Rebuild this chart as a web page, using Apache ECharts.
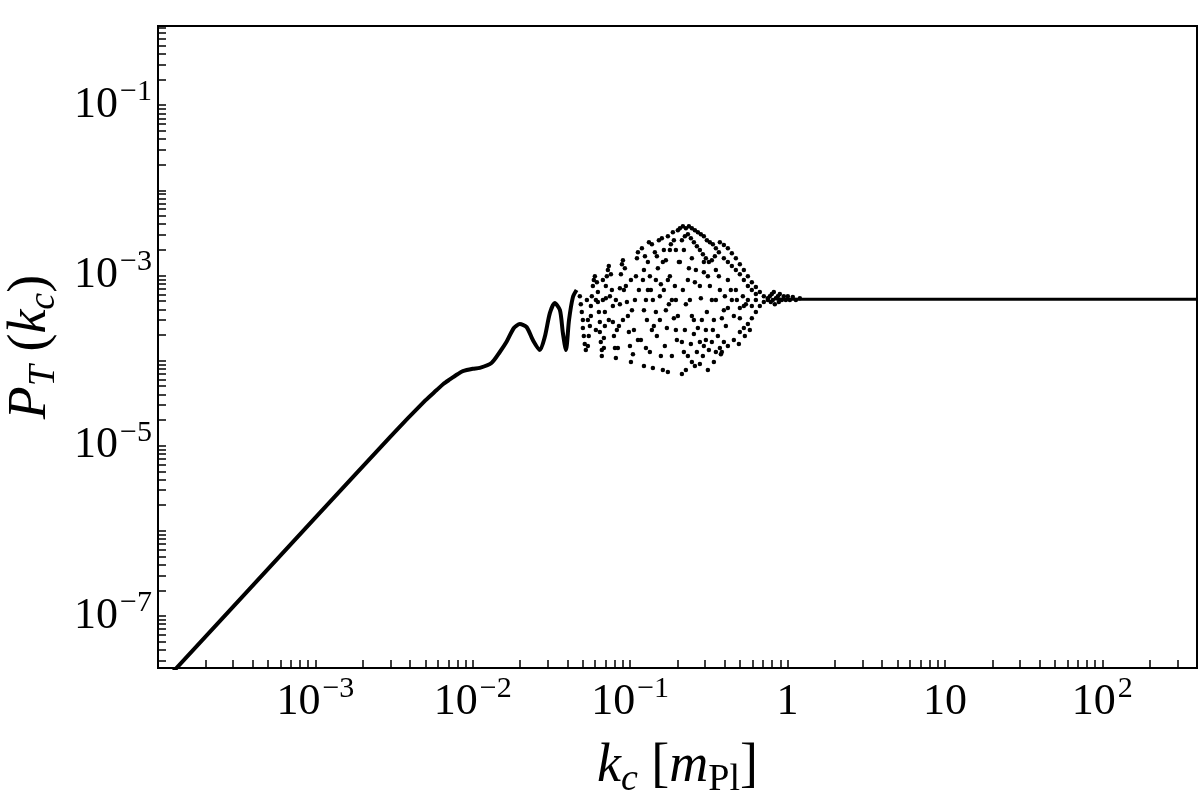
<!DOCTYPE html>
<html>
<head>
<meta charset="utf-8">
<title>P_T(k_c)</title>
<script src="https://cdn.jsdelivr.net/npm/echarts@6.0.0/dist/echarts.min.js"></script>
<style>
  html, body { margin: 0; padding: 0; background: #fff; }
  #chart { width: 1200px; height: 796px; }
</style>
</head>
<body>
<div id="chart"></div>
<script>
// low-k branch: k^2 rise, shoulder and the first resolved bumps
const lineK = [1.2e-4, 1e-3, 3e-3, 5e-3, 5.9e-3, 6.5e-3, 7.15e-3, 8e-3, 8.65e-3, 1e-2, 1.109e-2,
  1.315e-2, 1.486e-2, 1.64e-2, 1.825e-2, 1.99e-2, 2.2e-2, 2.41e-2, 2.67e-2, 2.87e-2, 3.09e-2,
  3.32e-2, 3.58e-2, 3.74e-2, 3.91e-2, 4.09e-2, 4.33e-2, 4.57e-2];
const lineP = [2.05e-8, 1.43e-6, 1.28e-5, 3.4e-5, 4.5e-5, 5.3e-5, 6.0e-5, 6.9e-5, 7.5e-5, 8.0e-5, 8.2e-5,
  9.35e-5, 1.26e-4, 1.66e-4, 2.41e-4, 2.68e-4, 2.47e-4, 1.74e-4, 1.33e-4, 1.9e-4, 3.61e-4,
  4.73e-4, 3.92e-4, 2.1e-4, 1.33e-4, 2.99e-4, 5.56e-4, 6.73e-4];

// sampled points of the fast oscillations
const cloudK = [
  0.0479, 0.0486, 0.0493, 0.0501, 0.0501, 0.0508, 0.0515, 0.0523,
  0.0539, 0.0546, 0.0555, 0.0563, 0.0563, 0.0571, 0.0580, 0.0588, 0.0597,
  0.0615, 0.0624, 0.0624, 0.0633, 0.0642, 0.0642, 0.0651, 0.0661, 0.0661,
  0.0681, 0.0681, 0.0691, 0.0691, 0.0701, 0.0701, 0.0711, 0.0722, 0.0732,
  0.0755, 0.0766, 0.0777, 0.0777, 0.0789, 0.0801, 0.0812,
  0.0836, 0.0849, 0.0861, 0.0861, 0.0874, 0.0887, 0.0900,
  0.0926, 0.0940, 0.0954, 0.0968, 0.0982, 0.0997, 0.1012,
  0.1042, 0.1057, 0.1073, 0.1089, 0.1105, 0.1121,
  0.0531, 0.0539, 0.0606, 0.0606, 0.0671, 0.0671, 0.0732, 0.0744,
  0.0812, 0.0824, 0.0900, 0.0913, 0.1012, 0.1027, 0.1121, 0.1137,
  0.1171, 0.1188, 0.1206, 0.1224, 0.1242, 0.1260, 0.1279, 0.1297, 0.1317, 0.1335,
  0.1355, 0.1375, 0.1395, 0.1415, 0.1436, 0.1458, 0.1479, 0.1501, 0.1523, 0.1545,
  0.1568, 0.1591, 0.1614, 0.1638, 0.1662, 0.1687, 0.1712, 0.1737, 0.1763, 0.1789,
  0.1815, 0.1842, 0.1869, 0.1897, 0.1925, 0.1953, 0.1982, 0.2011, 0.2041,
  0.1224, 0.1335, 0.1395, 0.1479, 0.1614, 0.1687, 0.1789, 0.1897, 0.1953, 0.1260, 0.1568, 0.1737,
  0.1224, 0.1297, 0.1375, 0.1458, 0.1545, 0.1638, 0.1737, 0.1842, 0.1953,
  0.2071, 0.2164, 0.2261, 0.2363, 0.2468, 0.2579, 0.2695, 0.2815, 0.2941, 0.3074, 0.3211, 0.3355, 0.3506, 0.3663,
  0.2133, 0.2228, 0.2328, 0.2432, 0.2542, 0.2656, 0.2774, 0.2899, 0.3029, 0.3165, 0.3306, 0.3455,
  0.3717, 0.3941, 0.4179, 0.4430, 0.4697, 0.4980, 0.5280, 0.5599, 0.5935, 0.6294, 0.6672, 0.7074, 0.7501,
  0.3941, 0.4179, 0.4430, 0.4697, 0.4980, 0.5280, 0.5599, 0.5935, 0.6294,
  0.3827, 0.4179, 0.4561, 0.4980, 0.5280, 0.5599, 0.5935, 0.6294, 0.6672, 0.7074, 0.7501, 0.5358, 0.5764, 0.4908,
  0.2164, 0.2261, 0.2363, 0.2468, 0.2579, 0.2695, 0.2815, 0.2941, 0.3074, 0.3211, 0.3355, 0.3506, 0.3663, 0.3827,
  0.4000, 0.4179, 0.4365, 0.4561, 0.4767, 0.4980, 0.5204, 0.5438,
  0.2071, 0.2196, 0.2328, 0.2468, 0.2617, 0.2774, 0.2941, 0.3119, 0.3306, 0.3506, 0.3717, 0.3941, 0.4179, 0.4430,
  0.4697, 0.4980, 0.5280, 0.5599, 0.5935, 0.6294, 0.2397, 0.2542, 0.2856, 0.3029, 0.3405, 0.3610, 0.4059, 0.2011,
  0.2133, 0.2228, 0.2328, 0.2432, 0.2542, 0.2656, 0.2774, 0.2899, 0.3029, 0.3165, 0.3306, 0.3506, 0.3717, 0.3941,
  0.2196, 0.2468, 0.2941,
  0.2133, 0.2261, 0.2579, 0.2774, 0.3119, 0.3405, 0.3772,
  0.7722, 0.7836, 0.7951, 0.8069, 0.8188, 0.8309, 0.8432, 0.8682, 0.8810, 0.8939,
  0.9205, 0.9478, 0.9761, 1.005, 1.035, 1.081, 1.130, 1.198
];
const cloudP = [
  5.71e-4, 4.60e-4, 3.71e-4, 2.99e-4, 2.41e-4, 1.94e-4, 1.56e-4, 1.33e-4,
  1.48e-4, 1.94e-4, 2.54e-4, 3.33e-4, 4.36e-4, 5.71e-4, 7.49e-4, 8.81e-4, 9.81e-4,
  8.34e-4, 6.37e-4, 4.86e-4, 3.71e-4, 2.83e-4, 2.16e-4, 1.65e-4, 1.33e-4, 1.13e-4,
  1.40e-4, 1.84e-4, 2.54e-4, 3.71e-4, 5.41e-4, 7.49e-4, 9.81e-4, 1.154e-3, 1.286e-3,
  1.035e-3, 6.72e-4, 4.36e-4, 2.83e-4, 1.94e-4, 1.40e-4, 1.07e-4,
  1.40e-4, 2.54e-4, 4.60e-4, 7.09e-4, 1.035e-3, 1.357e-3, 1.512e-3,
  1.218e-3, 7.49e-4, 4.86e-4, 3.33e-4, 2.16e-4, 1.48e-4, 9.60e-5,
  1.19e-4, 2.28e-4, 5.13e-4, 9.81e-4, 1.596e-3, 1.877e-3,
  5.13e-4, 2.99e-4, 5.13e-4, 2.28e-4, 5.13e-4, 8.81e-4, 2.99e-4, 5.71e-4,
  5.13e-4, 2.28e-4, 2.99e-4, 6.72e-4, 8.81e-4, 3.91e-4, 1.74e-4, 6.72e-4,
  1.74e-4, 2.092e-3, 8.81e-4, 8.61e-5, 1.685e-3, 5.13e-4, 2.99e-4, 1.433e-3, 2.460e-3, 1.26e-4,
  6.72e-4, 2.331e-3, 8.16e-5, 2.54e-4, 1.877e-3, 3.71e-4, 1.94e-4, 1.218e-3, 2.597e-3, 5.71e-4,
  7.90e-4, 2.741e-3, 7.73e-5, 1.982e-3, 1.48e-4, 1.512e-3, 2.41e-4, 2.893e-3, 4.60e-4, 9.81e-4,
  2.331e-3, 1.13e-4, 3.224e-3, 3.15e-4, 7.49e-4, 1.982e-3, 1.74e-4, 3.403e-3, 1.433e-3,
  1.154e-3, 9.81e-4, 5.13e-4, 1.685e-3, 1.433e-3, 3.91e-4, 1.982e-3, 2.597e-3, 5.13e-4, 1.40e-4, 1.13e-4, 7.32e-5,
  3.91e-4, 6.72e-4, 2.28e-4, 8.81e-4, 2.99e-4, 6.72e-4, 8.81e-4, 5.13e-4, 2.28e-4,
  3.591e-3, 3.792e-3, 3.591e-3, 3.792e-3, 3.591e-3, 3.403e-3, 3.224e-3, 3.054e-3, 2.893e-3, 2.597e-3, 2.460e-3, 2.331e-3, 2.092e-3, 1.877e-3,
  2.597e-3, 2.893e-3, 3.054e-3, 2.741e-3, 2.460e-3, 2.208e-3, 1.982e-3, 1.778e-3, 1.596e-3, 1.433e-3, 1.512e-3, 1.685e-3,
  2.460e-3, 2.27e-3, 2.092e-3, 1.827e-3, 1.596e-3, 1.357e-3, 1.154e-3, 9.81e-4, 8.34e-4, 7.29e-4, 6.37e-4, 5.71e-4, 5.41e-4,
  1.596e-3, 1.433e-3, 1.286e-3, 1.154e-3, 1.035e-3, 8.81e-4, 7.49e-4, 6.72e-4, 6.03e-4,
  1.26e-4, 1.48e-4, 1.74e-4, 2.16e-4, 2.41e-4, 2.68e-4, 3.15e-4, 3.71e-4, 4.36e-4, 4.86e-4, 5.13e-4, 1.94e-4, 2.28e-4, 1.56e-4,
  6.72e-4, 4.60e-4, 1.218e-3, 3.33e-4, 8.34e-4, 2.41e-4, 5.41e-4, 1.093e-3, 3.71e-4, 7.49e-4, 2.28e-4, 5.13e-4, 9.81e-4, 3.15e-4,
  5.71e-4, 4.13e-4, 6.72e-4, 3.33e-4, 5.13e-4, 4.13e-4, 5.71e-4, 4.60e-4,
  1.433e-3, 1.982e-3, 8.81e-4, 1.596e-3, 1.154e-3, 7.49e-4, 1.433e-3, 9.81e-4, 5.13e-4, 1.154e-3, 6.72e-4, 3.91e-4, 8.81e-4, 5.13e-4,
  6.72e-4, 3.15e-4, 4.36e-4, 5.13e-4, 4.36e-4, 5.13e-4, 5.13e-4, 2.99e-4, 2.99e-4, 2.28e-4, 2.99e-4, 1.94e-4, 2.54e-4, 3.33e-4,
  1.65e-4, 2.28e-4, 1.13e-4, 1.56e-4, 2.05e-4, 1.26e-4, 1.65e-4, 1.13e-4, 1.74e-4, 1.33e-4, 1.65e-4, 1.26e-4, 1.40e-4, 1.65e-4,
  1.26e-4, 9.60e-5, 1.48e-4,
  6.94e-5, 7.73e-5, 8.61e-5, 9.09e-5, 7.73e-5, 9.60e-5, 1.19e-4,
  5.71e-4, 4.86e-4, 6.03e-4, 5.13e-4, 6.37e-4, 4.60e-4, 5.41e-4, 5.71e-4, 4.86e-4, 6.03e-4,
  5.13e-4, 5.71e-4, 5.13e-4, 5.71e-4, 5.13e-4, 5.56e-4, 5.13e-4, 5.41e-4
];

// flat tail at high k
const tailK = [0.85, 1.0, 2.0, 400];
const tailP = [5.3e-4, 5.25e-4, 5.25e-4, 5.25e-4];

const xTickValues = [1e-3, 1e-2, 1e-1, 1, 10, 100];
const xTickLabels = ["10^−3", "10^−2", "10^−1", "1", "10", "10^2"];
const yTickValues = [1e-7, 1e-5, 1e-3, 1e-1];
const yTickLabels = ["10^−7", "10^−5", "10^−3", "10^−1"];

const FONT = "Liberation Serif";

function pairs(xs, ys) {
  return xs.map((x, i) => [x, ys[i]]);
}

// every m*10^n tick inside [lo, hi]
function logTicks(lo, hi) {
  const out = [];
  for (let n = -9; n <= 3; n++) {
    for (let m = 1; m <= 9; m++) {
      const v = m * Math.pow(10, n);
      if (v >= lo && v <= hi) out.push(v);
    }
  }
  return out;
}

function labelFor(values, labels) {
  return function (v) {
    const e = Math.round(Math.log10(v));
    const i = values.findIndex((t) => Math.round(Math.log10(t)) === e);
    if (i < 0) return "";
    const parts = labels[i].split("^");
    if (parts.length > 1) return "{b|" + parts[0] + "}{s|" + parts[1] + "}";
    return "{b|" + parts[0] + "}";
  };
}

const tickRich = {
  b: { fontFamily: FONT, fontSize: 44, lineHeight: 56, color: "#000" },
  s: { fontFamily: FONT, fontSize: 30, lineHeight: 30, verticalAlign: "top", color: "#000", padding: [0, 0, 0, 2] },
};

const nameRich = {
  i: { fontFamily: FONT, fontStyle: "italic", fontSize: 54, lineHeight: 64, color: "#000" },
  n: { fontFamily: FONT, fontSize: 54, lineHeight: 64, color: "#000" },
  si: { fontFamily: FONT, fontStyle: "italic", fontSize: 38, lineHeight: 38, verticalAlign: "bottom", color: "#000" },
  su: { fontFamily: FONT, fontSize: 38, lineHeight: 38, verticalAlign: "bottom", color: "#000" },
};

const X_MIN = 1e-4, X_MAX = 400;
const Y_MIN = 2.45e-8, Y_MAX = 0.85;

const myChart = echarts.init(document.getElementById("chart"));
const option = {
  animation: false,
  backgroundColor: "#fff",
  grid: {
    left: 158, right: 3, top: 26, bottom: 128,
    show: true, borderColor: "#000", borderWidth: 2,
    containLabel: false,
    outerBoundsMode: "none",
  },
  xAxis: {
    type: "log",
    logBase: 10,
    min: X_MIN,
    max: X_MAX,
    axisLine: { show: true, onZero: false, lineStyle: { color: "#000", width: 2 } },
    axisTick: {
      show: true, inside: true, length: 8,
      lineStyle: { color: "#000", width: 1.5 },
      customValues: logTicks(X_MIN, X_MAX),
    },
    axisLabel: {
      customValues: xTickValues,
      formatter: labelFor(xTickValues, xTickLabels),
      margin: 6,
      rich: tickRich,
    },
    splitLine: { show: false },
    name: "{i|k}{si|c}{n| [}{i|m}{su|Pl}{n|]}",
    nameLocation: "middle",
    nameGap: 67,
    nameTextStyle: { fontFamily: FONT, fontSize: 54, color: "#000", rich: nameRich },
  },
  yAxis: {
    type: "log",
    logBase: 10,
    min: Y_MIN,
    max: Y_MAX,
    axisLine: { show: true, onZero: false, lineStyle: { color: "#000", width: 2 } },
    axisTick: {
      show: true, inside: true, length: 8,
      lineStyle: { color: "#000", width: 1.5 },
      customValues: logTicks(Y_MIN, Y_MAX),
    },
    axisLabel: {
      customValues: yTickValues,
      formatter: labelFor(yTickValues, yTickLabels),
      margin: 6,
      rich: tickRich,
    },
    splitLine: { show: false },
    name: "{i|P}{si|T}{n| (}{i|k}{si|c}{n|)}",
    nameLocation: "middle",
    nameRotate: 90,
    nameGap: 92,
    nameTextStyle: { fontFamily: FONT, fontSize: 54, color: "#000", rich: nameRich },
  },
  series: [
    {
      name: "low-k",
      type: "line",
      data: pairs(lineK, lineP),
      showSymbol: false,
      smooth: 0.25,
      lineStyle: { color: "#000", width: 4 },
      silent: true,
    },
    {
      name: "oscillations",
      type: "scatter",
      data: pairs(cloudK, cloudP),
      symbolSize: 4.5,
      itemStyle: { color: "#000", opacity: 1 },
      silent: true,
    },
    {
      name: "tail",
      type: "line",
      data: pairs(tailK, tailP),
      showSymbol: false,
      lineStyle: { color: "#000", width: 3 },
      silent: true,
    },
  ],
};

myChart.setOption(option);
</script>
</body>
</html>
